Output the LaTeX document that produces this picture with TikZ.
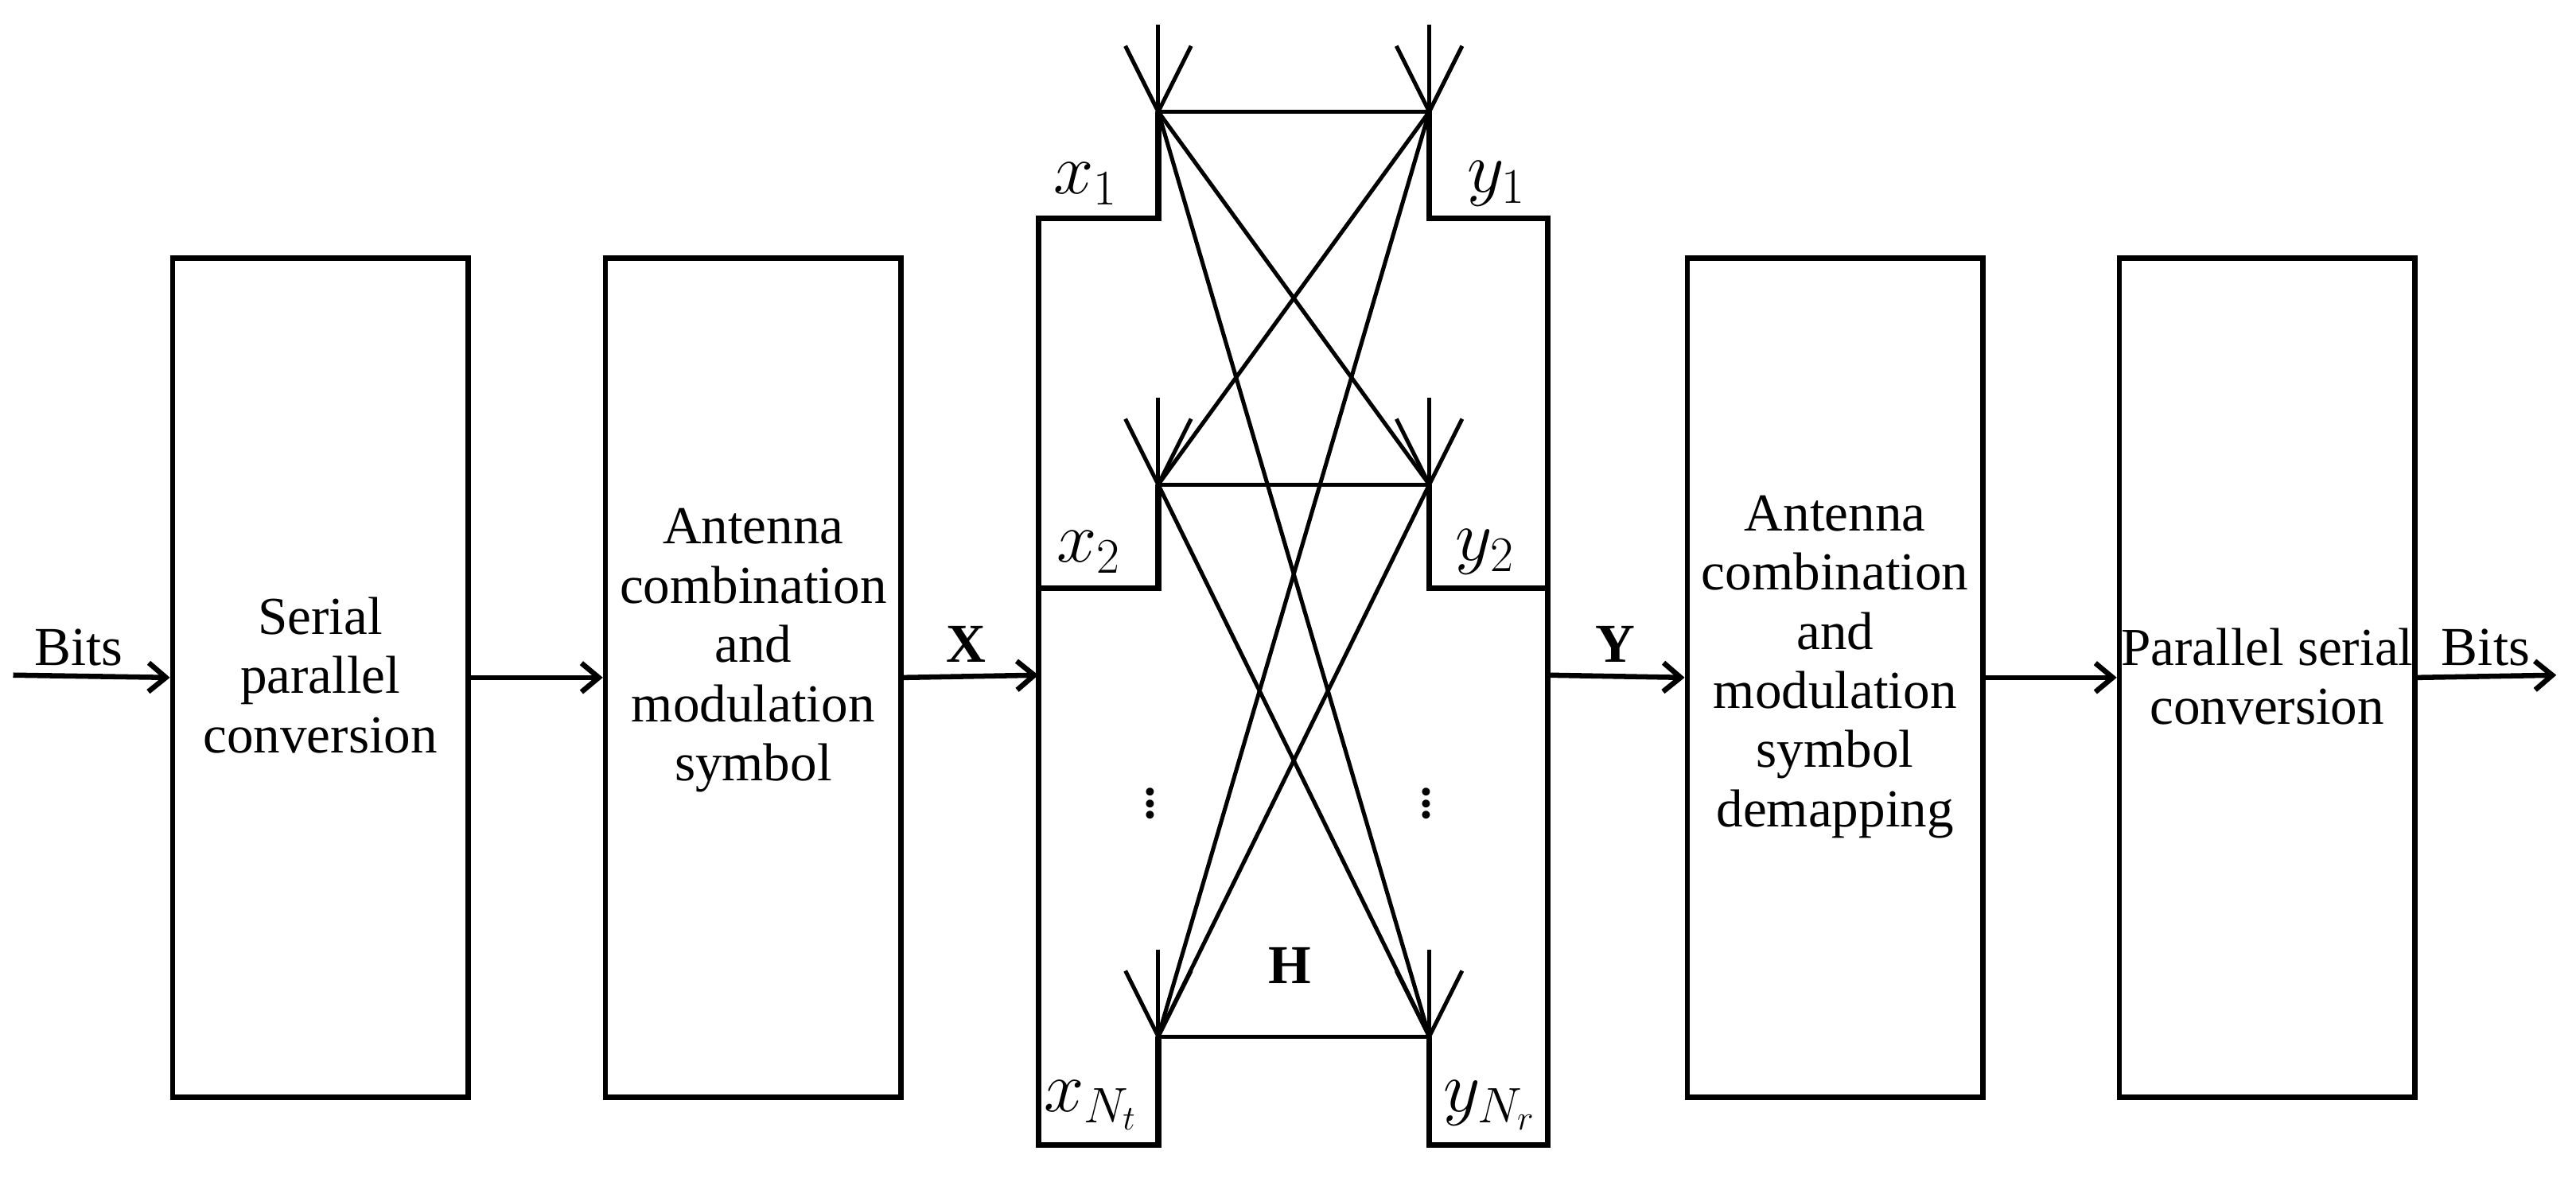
\documentclass[tikz,border=0pt]{standalone}
\usepackage{fontspec}
\setmainfont{Liberation Serif}
\usetikzlibrary{arrows.meta}
\begin{document}
\begin{tikzpicture}[x=0.02cm,y=-0.02cm,
  blk/.style={draw,line width=1.8pt,minimum width=3.6cm,minimum height=10.22cm,inner sep=0pt},
  txt/.style={align=center,inner sep=0pt,font=\fontsize{18.5}{20.5}\selectfont},
  arr/.style={line width=1.8pt,-{Straight Barb[length=6pt,width=10pt]}},
  thick1/.style={line width=2pt},
  chan/.style={line width=1.4pt},
  lbl/.style={font=\fontsize{19}{23}\selectfont},
  mlbl/.style={font=\fontsize{23}{26}\selectfont,inner sep=1pt}]
\path[use as bounding box] (0,0) rectangle (1568,717);
\node[blk] (b1) at (195,412.5) {};
\node[blk] (b2) at (458.5,412.5) {};
\node[blk] (b5) at (1117,412.5) {};
\node[blk] (b6) at (1380,412.5) {};
\node[txt] (t1txt) at (195,411) {Serial\\parallel\\conversion};
\node[txt] (t2txt) at (458.5,396) {Antenna\\combination\\and\\modulation\\symbol};
\node[txt] (t5txt) at (1117,406) {Antenna\\combination\\and\\modulation\\symbol\\demapping};
\node[txt] (t6txt) at (1380,412) {Parallel serial\\conversion};
\coordinate (in) at (8,411);
\coordinate (out) at (1556,411);
\coordinate (L) at (632,411);
\coordinate (R) at (942,411);
\coordinate (t1) at (705,68); \coordinate (t2) at (705,295); \coordinate (t3) at (705,631);
\coordinate (r1) at (870,68); \coordinate (r2) at (870,295); \coordinate (r3) at (870,631);
\draw[arr] (in) -- (b1.west);
\draw[arr] (b1.east) -- (b2.west);
\draw[arr] (b2.east) -- (L);
\draw[arr] (R) -- (b5.west);
\draw[arr] (b5.east) -- (b6.west);
\draw[arr] (b6.east) -- (out);
\node[lbl] (bitsin) at (48,394) {Bits};
\node[lbl] (bitsout) at (1513,394) {Bits};
\node[lbl] (X) at (588,392) {\textbf{X}};
\node[lbl] (Y) at (983,392) {\textbf{Y}};
% brackets
\draw[thick1] (t1) -- (705,133) -- (632,133) -- (632,697) -- (705,697) -- (t3);
\draw[thick1] (632,358) -- (705,358) -- (t2);
\draw[thick1] (r1) -- (870,133) -- (942,133) -- (942,697) -- (870,697) -- (r3);
\draw[thick1] (942,358) -- (870,358) -- (r2);
% antennas
\foreach \p in {t1,t2,t3,r1,r2,r3}{
  \draw[chan] (\p) -- ++(0,-53);
  \draw[chan] (\p) -- ++(-20,-40);
  \draw[chan] (\p) -- ++(20,-40);
}
% channel
\foreach \a in {t1,t2,t3}{\foreach \b in {r1,r2,r3}{\draw[chan] (\a) -- (\b);}}
\node[mlbl] (lx1) at (661,112) {$x_1$};
\node[mlbl] (lx2) at (663,336) {$x_2$};
\node[mlbl] (lx3) at (664,673) {$x_{N_t}$};
\node[mlbl] (ly1) at (911,112) {$y_1$};
\node[mlbl] (ly2) at (904,336) {$y_2$};
\node[mlbl] (ly3) at (907,673) {$y_{N_r}$};
\node[mlbl,inner sep=0pt] (d1) at (700,484) {$\vdots$};
\node[mlbl,inner sep=0pt] (d2) at (868,484) {$\vdots$};
\node[lbl] (H) at (785,588) {\textbf{H}};
\end{tikzpicture}
\end{document}
